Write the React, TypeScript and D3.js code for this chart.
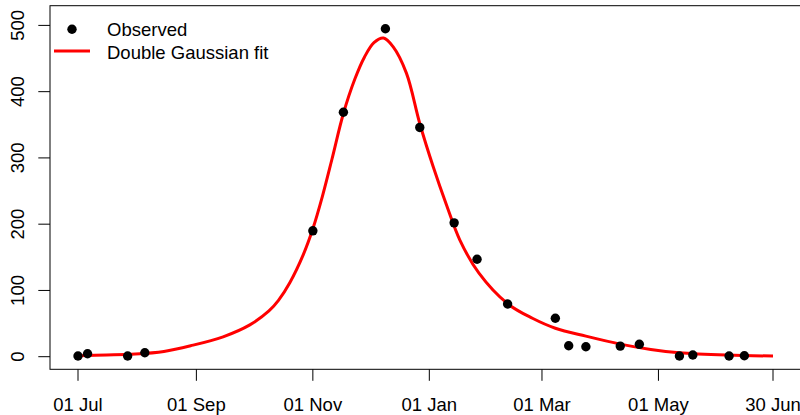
import React from "react";
import * as d3 from "d3";

// Observed data (date, value)
const obsDates = [
  "2018-07-01", "2018-07-06", "2018-07-27", "2018-08-05", "2018-11-01",
  "2018-11-17", "2018-12-09", "2018-12-27", "2019-01-14", "2019-01-26",
  "2019-02-11", "2019-03-08", "2019-03-15", "2019-03-24", "2019-04-11",
  "2019-04-21", "2019-05-12", "2019-05-19", "2019-06-07", "2019-06-15",
];
const obsValues = [1, 4.5, 1, 6, 190, 369, 495, 346, 202, 147, 79.5, 58, 16.6, 15, 16, 18.7, 1, 2.5, 1, 1.5];

// Double Gaussian fit curve
const fitDates = [
  "2018-07-01", "2018-07-16", "2018-07-31", "2018-08-15", "2018-08-29",
  "2018-09-15", "2018-09-29", "2018-10-09", "2018-10-14", "2018-10-20",
  "2018-10-27", "2018-11-01", "2018-11-06", "2018-11-11", "2018-11-17",
  "2018-11-23", "2018-11-28", "2018-12-03", "2018-12-08", "2018-12-13",
  "2018-12-20", "2018-12-27", "2019-01-03", "2019-01-10", "2019-01-17",
  "2019-01-27", "2019-02-11", "2019-02-24", "2019-03-08", "2019-03-24",
  "2019-04-11", "2019-04-27", "2019-05-12", "2019-06-06", "2019-06-30",
];
const fitValues = [
  1.5, 2.5, 4, 8, 16.5,
  30, 48, 69, 85, 112,
  154, 193, 242, 298, 367,
  419, 452, 474, 481, 468,
  428, 352, 287, 229, 176,
  126, 80, 58, 43, 31,
  19, 11, 6, 2.5, 1,
];

const xTickDates = ["2018-07-01", "2018-09-01", "2018-11-01", "2019-01-01", "2019-03-01", "2019-05-01", "2019-06-30"];
const yTicks = [0, 100, 200, 300, 400, 500];

const legendLabels = ["Observed", "Double Gaussian fit"];

const parse = d3.utcParse("%Y-%m-%d");
const fmt = d3.utcFormat("%d %b");

export default function App() {
  const W = 800, H = 415;
  const x = d3.scaleUtc()
    .domain([parse("2018-07-01")!, parse("2019-06-30")!])
    .range([78, 773]);
  const y = d3.scaleLinear().domain([0, 500]).range([356.7, 25.4]);

  const boxL = 50, boxR = 801, boxT = 5.7, boxB = 369.3;
  const font = "'Liberation Sans', Arial, Helvetica, sans-serif";
  const fs = 18.5;

  const fitData = fitDates.map((d, i) => ({ d: parse(d)!, v: fitValues[i] }));
  const line = d3.line<{ d: Date; v: number }>()
    .x((p) => x(p.d))
    .y((p) => y(p.v))
    .curve(d3.curveCatmullRom.alpha(0.5));

  return (
    <svg width={W} height={H} style={{ position: "absolute", left: 0, top: 0, background: "#fff" }}
      fontFamily={font}>
      <rect x={0} y={0} width={W} height={H} fill="#fff" />
      {/* box */}
      <rect x={boxL} y={boxT} width={boxR - boxL} height={boxB - boxT} fill="none" stroke="#000" strokeWidth={1} />
      {/* fit curve */}
      <path d={line(fitData) || ""} fill="none" stroke="#FF0000" strokeWidth={3} strokeLinejoin="round" />
      {/* observed points */}
      {obsDates.map((d, i) => (
        <circle key={i} cx={x(parse(d)!)} cy={y(obsValues[i])} r={4.7} fill="#000" />
      ))}
      {/* x axis */}
      {xTickDates.map((d, i) => {
        const xp = x(parse(d)!);
        return (
          <g key={i}>
            <line x1={xp} x2={xp} y1={boxB} y2={boxB + 11.5} stroke="#000" strokeWidth={1} />
            <text x={xp} y={410.5} textAnchor="middle" fontSize={fs} fill="#000">{fmt(parse(d)!)}</text>
          </g>
        );
      })}
      {/* y axis */}
      {yTicks.map((t, i) => {
        const yp = y(t);
        return (
          <g key={i}>
            <line x1={boxL - 11.7} x2={boxL} y1={yp} y2={yp} stroke="#000" strokeWidth={1} />
            <text transform={`translate(23.5,${yp}) rotate(-90)`} textAnchor="middle" fontSize={fs} fill="#000">{t}</text>
          </g>
        );
      })}
      {/* legend */}
      <circle cx={72} cy={29.3} r={4.7} fill="#000" />
      <text x={107} y={36} fontSize={fs} fill="#000">{legendLabels[0]}</text>
      <line x1={54} x2={90} y1={51} y2={51} stroke="#FF0000" strokeWidth={3} />
      <text x={107} y={59} fontSize={fs} fill="#000">{legendLabels[1]}</text>
    </svg>
  );
}
